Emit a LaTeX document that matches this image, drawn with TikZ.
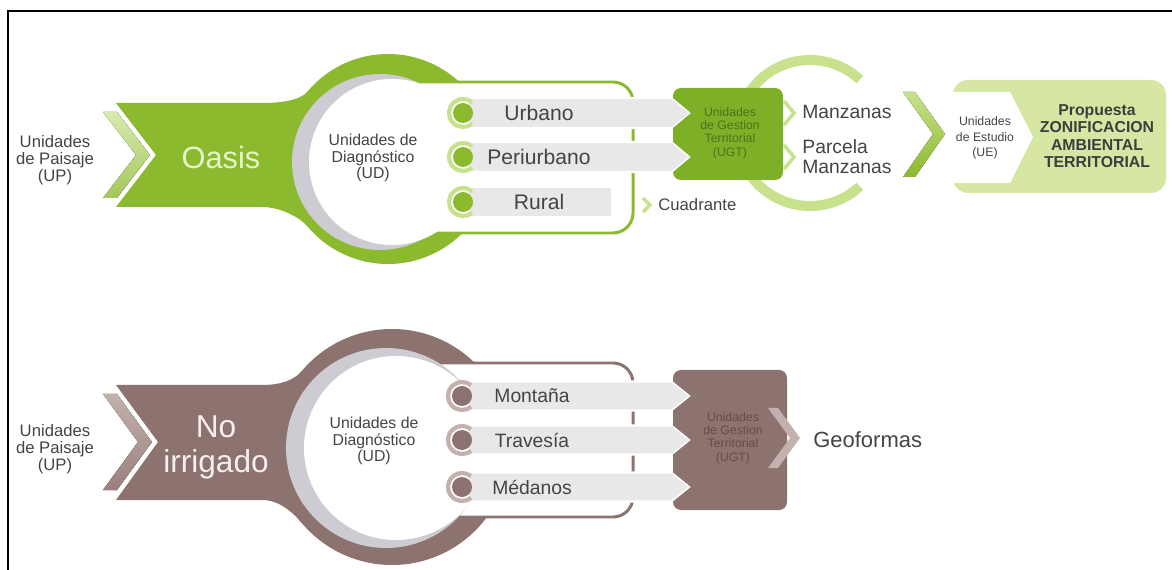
\documentclass[tikz,border=0pt]{standalone}
\usepackage{fontspec}
\setmainfont{Liberation Sans}
\usetikzlibrary{calc,positioning}
\definecolor{oasisgreen}{RGB}{140,186,46}
\definecolor{ugtgreen}{RGB}{125,176,38}
\definecolor{lightgreen}{RGB}{200,225,140}
\definecolor{uegreen}{RGB}{214,231,163}
\definecolor{ugtgreentext}{RGB}{80,112,28}
\definecolor{brownmain}{RGB}{141,115,111}
\definecolor{brownlight}{RGB}{196,176,172}
\definecolor{browntext}{RGB}{100,76,73}
\definecolor{bargray}{RGB}{232,232,232}
\definecolor{ringgray}{RGB}{204,204,210}
\definecolor{txtgray}{RGB}{68,68,68}
\definecolor{oasistext}{RGB}{232,244,205}
\definecolor{irrigtext}{RGB}{246,238,235}

\begin{document}
\begin{tikzpicture}[%
    x=0.02cm, y=-0.02cm,%
    every node/.style={inner sep=0pt, text=txtgray},%
    uplbl/.style={align=center, font=\fontsize{9.5}{9.5}\selectfont},%
    udlbl/.style={align=center, font=\fontsize{9}{9.5}\selectfont},%
    bigtxt/.style={align=center, font=\fontsize{17.5}{20}\selectfont},%
    barlbl/.style={font=\fontsize{12}{12}\selectfont},%
    ugtlbl/.style={align=center, font=\fontsize{7}{7.6}\selectfont},%
    sidelbl/.style={anchor=west, align=left, font=\fontsize{11}{11.4}\selectfont},%
    barbox/.style={fill=bargray, draw=white, line width=1.2pt}%
  ]
  \tikzset{%
    pics/bullet/.style 2 args={code={%
      \draw[#1, line width=2.4pt] (0,0) ++(50:14) arc[start angle=50, end angle=310, radius=14];%
      \fill[#2] (0,0) circle[radius=10];%
    }}%
  }%
  \useasboundingbox (0,0) rectangle (1172,570);%
  \draw[line width=1.2pt] (8,570) -- (8,11) -- (1172,11);%

  %
  % Oasis
  %
  \coordinate (oasis center) at (388,159);%
  \fill[oasisgreen] (oasis center) circle[radius=105];%
  \fill[top color=lightgreen!70!white, bottom color=oasisgreen!80] (103,112) -- (117,112) -- (150,155) -- (117,198) -- (103,198) -- (136,155) -- cycle;%
  \fill[oasisgreen] (116,103) -- (262,103) .. controls (280,103) and (300,100.7) .. (307.6,91.5) -- (340,91.5) -- (340,226.5) -- (307.6,226.5) .. controls (300,217.3) and (280,207) .. (262,207) -- (116,207) -- (156,155) -- cycle;%
  \draw[oasisgreen, line width=1.7pt, fill=white, rounded corners=0.4cm] (380,82) rectangle (633,233);%
  \fill[ringgray] (380,162) circle[radius=88];%
  \fill[white] (392,162) circle[radius=83];%

  % Light ring behind the UGT
  \draw[lightgreen, line width=5.7pt] (810,133) ++(47:73) arc[start angle=47, end angle=313, radius=73];%

  % Bars
  \foreach \name/\txt/\yc/\xe/\tip in {urbano/Urbano/113/672/18,periurbano/Periurbano/157/672/18,rural/Rural/202/612/0} {%
      \path[barbox] (468,\yc-15) -- (\xe,\yc-15) -- (\xe+\tip,\yc) -- (\xe,\yc+15) -- (468,\yc+15) -- cycle;%
      \path (463,\yc) pic {bullet={lightgreen}{oasisgreen}};%
      \node[barlbl] (\name) at (539,\yc) {\txt};%
    }%

  % UGT
  \fill[ugtgreen, rounded corners=0.16cm] (728,88) -- (783,88) -- (783,180) -- (673,180) [sharp corners] -- (673,172) -- (691,157) -- (673,142) -- (673,128) -- (691,113) -- (673,98) [rounded corners=0.16cm] -- (673,88) -- cycle;%
  \foreach \yc in {113,157} {%
      \draw[lightgreen, line width=2pt] (784,\yc-12) -- (794,\yc) -- (784,\yc+12);%
    }%
  \node[ugtlbl, text=ugtgreentext] (ugt oasis) at (730,133) {Unidades\\de Gestion\\Territorial\\(UGT)};%

  \node[uplbl] (up oasis) at (55,160) {Unidades\\de Paisaje\\(UP)};%
  \node[bigtxt, text=oasistext] (oasis) at (221,158) {Oasis};%
  \node[udlbl] (ud oasis) at (373,158) {Unidades de\\Diagnóstico\\(UD)};%

  \node[sidelbl] (manzanas) at (802,112) {Manzanas};%
  \node[sidelbl] (parcela) at (802,157) {Parcela\\Manzanas};%
  \draw[lightgreen, line width=2pt] (643,198) -- (650,205) -- (643,212);%
  \node[anchor=west, font=\fontsize{9.5}{9.5}\selectfont] (cuadrante) at (658,205) {Cuadrante};%

  % Estudio
  \fill[top color=lightgreen, bottom color=oasisgreen] (903,92) -- (915,92) -- (945,134) -- (915,177) -- (903,177) -- (933,134) -- cycle;%
  \fill[uegreen, rounded corners=0.3cm] (953,80) rectangle (1166,193);%
  \fill[white] (950,92) -- (1010,92) -- (1033,137) -- (1010,183) -- (950,183) -- cycle;%
  \node[align=center, font=\fontsize{7}{8.8}\selectfont] (ue) at (985,138) {Unidades\\de Estudio\\(UE)};%
  \node[align=center, font=\bfseries\fontsize{9}{10}\selectfont, text=txtgray!90!black] (propuesta) at (1097,136) {Propuesta\\ZONIFICACION\\AMBIENTAL\\TERRITORIAL};%

  %
  % No irrigado
  %
  \coordinate (irrig center) at (392,447);%
  \fill[brownmain] (irrig center) circle[radius=118];%
  \fill[top color=brownlight, bottom color=brownmain!90] (103,394) -- (117,394) -- (152,442) -- (117,490) -- (103,490) -- (138,442) -- cycle;%
  \fill[brownmain] (116,385) -- (262,385) .. controls (280,385) and (293.9,380.4) .. (301.6,371.2) -- (340,371.2) -- (340,522.8) -- (301.6,522.8) .. controls (293.9,513.6) and (280,500) .. (262,500) -- (116,500) -- (158,442) -- cycle;%
  \draw[brownmain, line width=1.7pt, fill=white, rounded corners=0.4cm] (380,363) rectangle (633,517);%
  \fill[ringgray] (386,448) circle[radius=100];%
  \fill[white] (396,448) circle[radius=92];%

  % Bars
  \foreach \name/\txt/\yc in {montana/Montaña/396,travesia/Travesía/440,medanos/Médanos/487} {%
      \path[barbox] (468,\yc-14.5) -- (672,\yc-14.5) -- (690,\yc) -- (672,\yc+14.5) -- (468,\yc+14.5) -- cycle;%
      \path (462,\yc) pic {bullet={brownlight}{brownmain}};%
      \node[barlbl, font=\fontsize{11}{11}\selectfont] (\name) at (532,\yc) {\txt};%
    }%

  % UGT
  \fill[brownmain, rounded corners=0.16cm] (730,370) -- (787,370) -- (787,510) -- (673,510) [sharp corners] -- (673,501.5) -- (691,487) -- (673,472.5) -- (673,454.5) -- (691,440) -- (673,425.5) -- (673,410.5) -- (691,396) -- (673,381.5) [rounded corners=0.16cm] -- (673,370) -- cycle;%
  \fill[brownlight] (768,408) -- (778,408) -- (800,438) -- (778,468) -- (768,468) -- (790,438) -- cycle;%
  \node[ugtlbl, text=browntext] (ugt irrig) at (733,438) {Unidades\\de Gestion\\Territorial\\(UGT)};%

  \node[uplbl] (up irrig) at (55,449) {Unidades\\de Paisaje\\(UP)};%
  \node[bigtxt, font=\fontsize{18}{20}\selectfont, text=irrigtext] (irrigado) at (216,447) {No\\irrigado};%
  \node[udlbl] (ud irrig) at (374,441) {Unidades de\\Diagnóstico\\(UD)};%
  \node[anchor=west, font=\fontsize{12.5}{12.5}\selectfont] (geoformas) at (813,440) {Geoformas};%
\end{tikzpicture}
\end{document}
